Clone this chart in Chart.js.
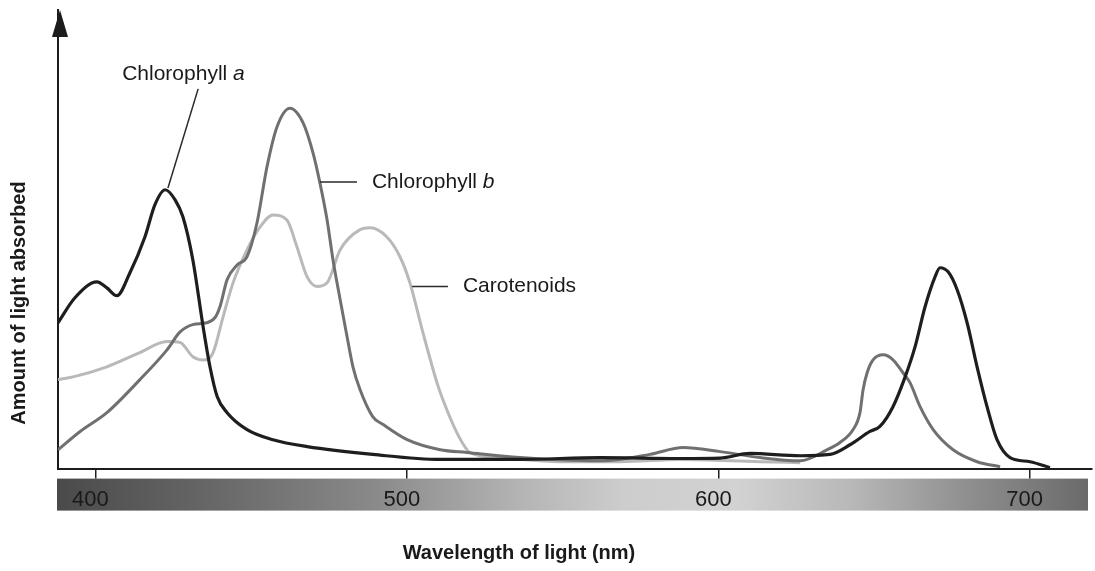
<!DOCTYPE html>
<html>
<head>
<meta charset="utf-8">
<script src="https://cdn.jsdelivr.net/npm/chart.js@4.4.1/dist/chart.umd.min.js"></script>
<style>
html, body { margin: 0; padding: 0; background: #fff; }
#wrap { width: 1095px; height: 571px; position: relative; }
</style>
</head>
<body>
<div id="wrap"><canvas id="absorbChart"></canvas></div>
<script>
// wavelengths (nm) and absorption (arbitrary units, 0-100)
var chlANm  = [388.0, 393.5, 400.5, 403.7, 406.9, 411.1, 415.9, 419.1, 422.4, 425.6, 428.1, 431.3, 434.6, 436.8, 439.1, 442.3, 448.7, 457.0, 468.0, 489.1, 510.7, 536.3, 562.0, 587.7, 600.6, 610.2, 626.3, 635.9, 642.3, 648.7, 651.9, 656.1, 660.0, 663.2, 666.4, 669.6, 671.2, 673.8, 676.7, 679.9, 683.1, 686.3, 689.5, 693.7, 700.1, 706.5];
var chlAVal = [31.8, 37.3, 40.7, 39.4, 37.7, 42.7, 50.5, 57.5, 60.8, 58.6, 54.9, 45.5, 30.9, 22.2, 15.7, 12.2, 8.5, 6.3, 4.8, 3.1, 2.0, 2.0, 2.4, 2.2, 2.3, 3.3, 2.8, 3.1, 5.2, 8.1, 9.2, 13.5, 20.0, 26.6, 35.3, 41.8, 43.8, 42.9, 39.0, 31.8, 22.2, 13.5, 6.3, 2.4, 1.5, 0.2];

var chlBNm  = [388.0, 395.1, 403.7, 414.3, 423.0, 427.2, 431.3, 435.8, 438.4, 440.0, 442.3, 445.5, 448.7, 451.9, 455.1, 458.3, 462.5, 466.7, 469.9, 472.1, 474.4, 476.3, 478.6, 480.8, 482.7, 485.0, 489.1, 492.4, 500.1, 510.7, 519.3, 536.3, 562.0, 578.1, 588.7, 600.6, 613.4, 626.3, 634.9, 639.1, 643.3, 645.5, 646.5, 647.8, 649.7, 653.0, 656.1, 659.3, 661.6, 664.8, 669.0, 675.4, 683.1, 690.5];
var chlBVal = [4.1, 8.1, 12.2, 19.4, 25.9, 29.8, 31.4, 31.8, 32.9, 35.3, 41.2, 44.4, 46.2, 53.6, 65.8, 74.5, 78.6, 75.4, 68.8, 62.3, 54.2, 45.5, 36.8, 28.8, 22.2, 17.2, 11.3, 9.6, 6.3, 4.1, 3.5, 2.4, 1.7, 3.1, 4.6, 3.7, 2.4, 1.7, 4.1, 5.7, 8.5, 12.2, 17.2, 20.9, 23.7, 24.8, 23.7, 20.9, 18.7, 13.5, 8.5, 4.1, 1.5, 0.4];

var carNm  = [388.0, 392.8, 403.7, 414.3, 423.0, 427.2, 431.3, 434.6, 437.8, 441.0, 444.2, 448.7, 452.9, 457.0, 461.5, 464.7, 468.0, 471.2, 474.4, 478.6, 485.0, 488.2, 493.6, 497.8, 501.0, 505.2, 509.7, 511.6, 516.1, 520.3, 529.9, 549.2, 568.5, 587.7, 613.4, 626.3];
var carVal = [19.4, 20.0, 22.2, 25.3, 27.7, 27.5, 24.4, 23.7, 25.3, 33.1, 40.5, 47.7, 52.7, 55.3, 54.2, 48.4, 41.8, 39.7, 40.5, 47.7, 52.1, 52.5, 50.5, 46.2, 40.5, 29.6, 18.7, 15.0, 7.8, 3.5, 2.4, 1.5, 1.5, 2.0, 1.5, 1.3];

var tickValues = [400, 500, 600, 700];

// curve labels: [leader start, leader end, text anchor] in data units
var labelNames   = ["Chlorophyll ", "Chlorophyll ", "Carotenoids"];
var labelItalic  = ["a", "b", ""];
var leaderFrom   = [[433.0, 82.8], [472.1, 62.5], [501.7, 39.7]];
var leaderTo     = [[423.3, 61.2], [484.0, 62.5], [513.2, 39.7]];
var labelAt      = [[408.6, 86.1], [488.8, 62.5], [518.0, 39.7]];

function toPoints(xs, ys) {
    return xs.map(function (x, i) { return {x: x, y: ys[i]}; });
}

var FONT = "'Liberation Sans', Arial, Helvetica, sans-serif";
Chart.defaults.font.family = FONT;

var decor = {
    id: 'decor',
    beforeDraw: function (chart) {
        var ctx = chart.ctx, a = chart.chartArea;
        ctx.save();
        ctx.fillStyle = '#fff';
        ctx.fillRect(0, 0, chart.width, chart.height);
        // spectrum strip under the axis
        var x0 = a.left - 1, x1 = a.right - 4, y0 = a.bottom + 10;
        var g = ctx.createLinearGradient(x0, 0, x1, 0);
        g.addColorStop(0.00, '#4a4a4a');
        g.addColorStop(0.14, '#656565');
        g.addColorStop(0.31, '#8a8a8a');
        g.addColorStop(0.45, '#b4b4b4');
        g.addColorStop(0.55, '#cdcdcd');
        g.addColorStop(0.66, '#d2d2d2');
        g.addColorStop(0.77, '#b8b8b8');
        g.addColorStop(0.88, '#909090');
        g.addColorStop(1.00, '#6a6a6a');
        ctx.fillStyle = g;
        ctx.fillRect(x0, y0, x1 - x0, 32);
        ctx.restore();
    },
    afterDatasetsDraw: function (chart) {
        var ctx = chart.ctx, a = chart.chartArea;
        var xs = chart.scales.x, ys = chart.scales.y;
        ctx.save();
        // arrow head on y axis
        ctx.fillStyle = '#1c1c1c';
        ctx.beginPath();
        ctx.moveTo(a.left + 2, a.top);
        ctx.lineTo(a.left - 6, a.top + 27);
        ctx.lineTo(a.left + 10, a.top + 27);
        ctx.closePath();
        ctx.fill();

        // leaders and labels
        ctx.strokeStyle = '#2a2a2a';
        ctx.lineWidth = 1.5;
        ctx.fillStyle = '#1a1a1a';
        ctx.textBaseline = 'middle';
        ctx.textAlign = 'left';
        for (var i = 0; i < labelNames.length; i++) {
            ctx.beginPath();
            ctx.moveTo(xs.getPixelForValue(leaderFrom[i][0]), ys.getPixelForValue(leaderFrom[i][1]));
            ctx.lineTo(xs.getPixelForValue(leaderTo[i][0]), ys.getPixelForValue(leaderTo[i][1]));
            ctx.stroke();
            var tx = xs.getPixelForValue(labelAt[i][0]);
            var ty = ys.getPixelForValue(labelAt[i][1]);
            ctx.font = '21px ' + FONT;
            ctx.fillText(labelNames[i], tx, ty);
            if (labelItalic[i]) {
                var w = ctx.measureText(labelNames[i]).width;
                ctx.font = 'italic 21px ' + FONT;
                ctx.fillText(labelItalic[i], tx + w, ty);
            }
        }

        // axis titles
        ctx.font = 'bold 20px ' + FONT;
        ctx.textAlign = 'center';
        ctx.fillText('Wavelength of light (nm)', 519, 553);
        ctx.translate(19, 303);
        ctx.rotate(-Math.PI / 2);
        ctx.fillText('Amount of light absorbed', 0, 0);
        ctx.restore();
    }
};

var ctx = document.getElementById('absorbChart').getContext('2d');
new Chart(ctx, {
    type: 'line',
    data: {
        datasets: [
            {label: 'Chlorophyll a', data: toPoints(chlANm, chlAVal), borderColor: '#1e1e1e', borderWidth: 3.2},
            {label: 'Chlorophyll b', data: toPoints(chlBNm, chlBVal), borderColor: '#707070', borderWidth: 3},
            {label: 'Carotenoids', data: toPoints(carNm, carVal), borderColor: '#b9b9b9', borderWidth: 3}
        ]
    },
    options: {
        responsive: true,
        maintainAspectRatio: false,
        animation: false,
        layout: {padding: {left: 50, right: 3, top: 10, bottom: 50}},
        elements: {
            point: {radius: 0},
            line: {cubicInterpolationMode: 'monotone', fill: false}
        },
        plugins: {legend: {display: false}, tooltip: {enabled: false}},
        scales: {
            x: {
                type: 'linear',
                min: 388,
                max: 720,
                afterBuildTicks: function (axis) {
                    axis.ticks = tickValues.map(function (v) { return {value: v}; });
                },
                grid: {display: true, drawOnChartArea: false, drawTicks: true, tickLength: 10, color: '#222', lineWidth: 1.5},
                border: {display: true, color: '#1c1c1c', width: 2},
                ticks: {color: '#1a1a1a', font: {size: 22}, padding: 8, maxRotation: 0, autoSkip: false, labelOffset: -5}
            },
            y: {
                min: 0,
                max: 100,
                grid: {display: false},
                border: {display: true, color: '#1c1c1c', width: 2},
                ticks: {display: false}
            }
        }
    },
    plugins: [decor]
});
</script>
</body>
</html>
